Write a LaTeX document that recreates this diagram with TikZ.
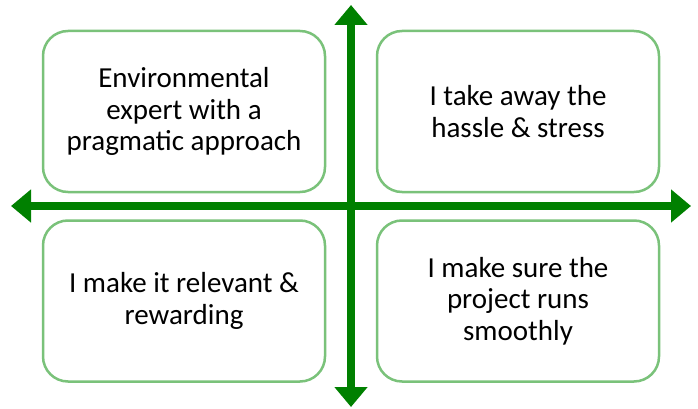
\documentclass[tikz,border=0pt]{standalone}
\usepackage{fontspec}
\setmainfont{Carlito}
\usepackage{xcolor}
\usetikzlibrary{arrows.meta,positioning}
\definecolor{axisgreen}{RGB}{0,128,0}
\definecolor{boxgreen}{RGB}{122,194,122}

\begin{document}
\begin{tikzpicture}[
  x=1pt, y=-1pt,
  % Styles
  quad/.style={draw=boxgreen, line width=2.5pt, rounded corners=25pt,
               minimum width=282pt, minimum height=161pt, align=center,
               font=\fontsize{29}{31.5}\selectfont, text=black},
  axis/.style={axisgreen, line width=8pt,
               {Triangle[length=20pt, width=32pt]}-{Triangle[length=20pt, width=32pt]}}
]
\useasboundingbox (0,0) rectangle (698,409);

% --- Quadrant boxes ---
\node[quad] (tl) at (184,111.5) {Environmental\\expert with a\\pragmatic approach};
\node[quad] (tr) at (518,111.5) {I take away the\\hassle \& stress};
\node[quad] (bl) at (184,301) {I make it relevant \&\\rewarding};
\node[quad] (br) at (518,301) {I make sure the\\project runs\\smoothly};

% --- Axis ends ---
\coordinate (west) at (11,206);
\coordinate (east) at (691,206);
\coordinate (north) at (351,5);
\coordinate (south) at (351,407);

% --- Axes ---
\draw[axis] (west) -- (east);
\draw[axis] (north) -- (south);

\end{tikzpicture}
\end{document}
